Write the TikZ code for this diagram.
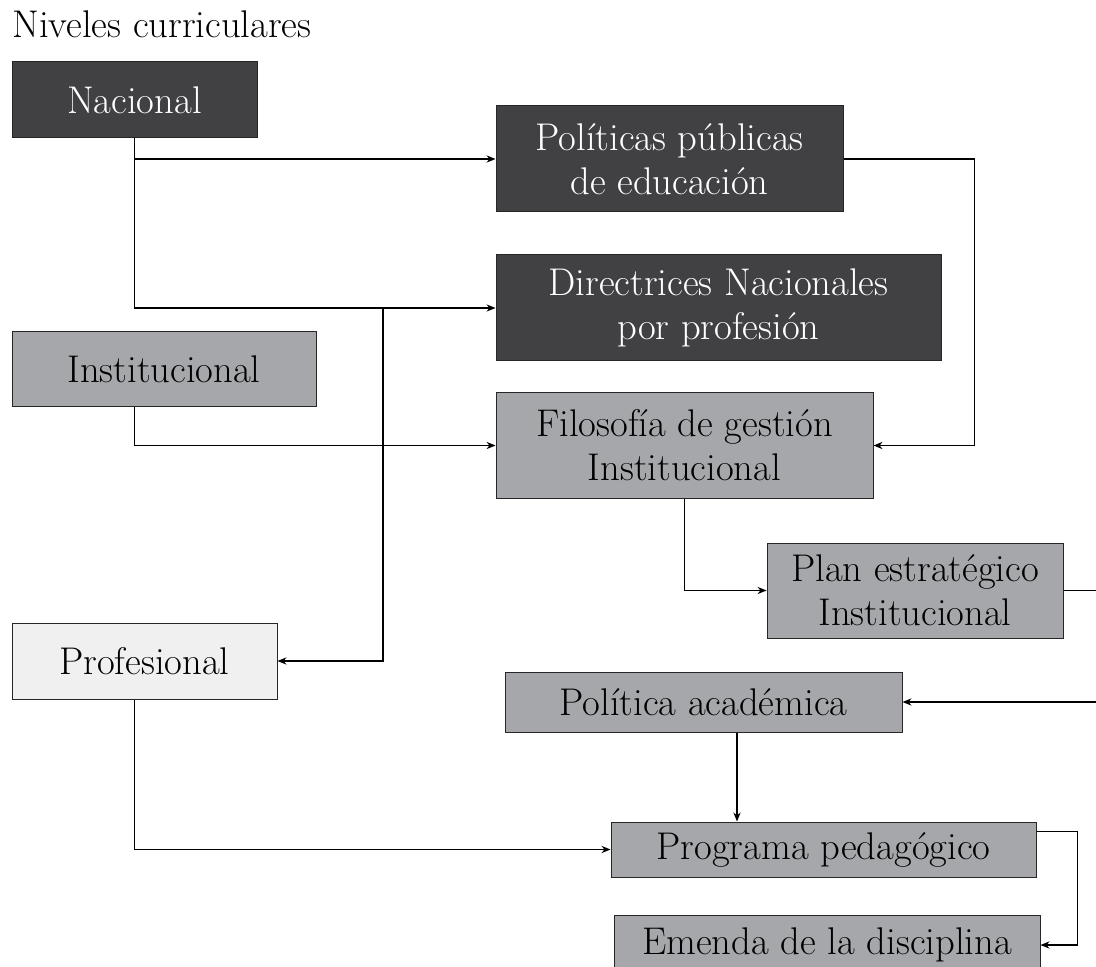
\documentclass[tikz,border=0pt]{standalone}
\usetikzlibrary{arrows.meta}
\definecolor{darkbox}{HTML}{414143}
\definecolor{midbox}{HTML}{A6A7AA}
\definecolor{lightbox}{HTML}{F0F0F0}
\begin{document}
\begin{tikzpicture}[x=0.5pt,y=-0.5pt,>={Stealth[length=4.5pt,width=3.6pt]},
  every node/.style={font=\fontsize{19.3}{22}\selectfont},
  block/.style={rectangle,draw=black!85,line width=0.5pt,inner sep=0pt,align=center},
  dark/.style={block,fill=darkbox,text=white},
  mid/.style={block,fill=midbox},
  light/.style={block,fill=lightbox}]
\useasboundingbox (0,0) rectangle (1096,967);
\node[anchor=base west,inner sep=0pt] (title) at (12,38) {Niveles curriculares};
% left column
\node[dark,minimum width=122.5pt,minimum height=38pt] (nac) at (134.5,100) {Nacional};
\node[mid,minimum width=152pt,minimum height=37.5pt] (ins) at (164,369.5) {Institucional};
\node[light,minimum width=132.5pt,minimum height=38pt] (pro) at (144.5,661) {Profesional};
% right column
\node[dark,minimum width=173.5pt,minimum height=53pt] (pol) at (669.5,159) {Políticas públicas\\ de educación};
\node[dark,minimum width=222.5pt,minimum height=53pt] (dir) at (718.5,308) {Directrices Nacionales\\ por profesión};
\node[mid,minimum width=188.5pt,minimum height=52.5pt] (fil) at (684.5,445.5) {Filosofía de gestión\\ Institucional};
\node[mid,minimum width=148pt,minimum height=47.5pt] (plan) at (915,590.5) {Plan estratégico\\ Institucional};
\node[mid,minimum width=198.5pt,minimum height=30pt] (aca) at (703.5,702) {Política académica};
\node[mid,minimum width=212.5pt,minimum height=27.5pt] (prog) at (823.5,849.5) {Programa pedagógico};
\node[mid,minimum width=213pt,minimum height=30pt] (emd) at (827,945) {Emenda de la disciplina};
\coordinate (j1) at (383,308);
\coordinate (edge) at (1110,0);
\coordinate (c2) at (737,0);
\begin{scope}[line width=0.6pt]
\draw[->] (nac.south) |- (pol.west);
\draw[->] (nac.south) |- (dir.west);
\draw[->] (j1) |- (pro.east);
\draw[->] (pol.east) -- ++(131,0) |- (fil.east);
\draw[->] (ins.south -| nac.south) |- (fil.west);
\draw[->] (fil.south) |- (plan.west);
\draw[->] (plan.east) -| (edge |- aca.east) -- (aca.east);
\draw[->] (c2 |- aca.south) -- (c2 |- prog.north);
\draw[->] (pro.south -| nac.south) |- (prog.west);
\draw[->] ([yshift=-5pt]prog.north east) -- ++(41,0) |- (emd.east);
\end{scope}
\end{tikzpicture}
\end{document}
